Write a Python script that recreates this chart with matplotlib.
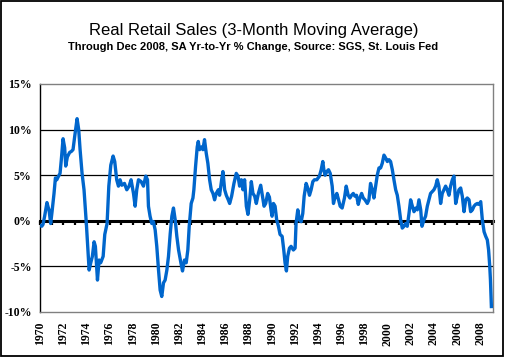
import matplotlib.pyplot as plt
import numpy as np
from matplotlib.patches import Rectangle

# time in years after Jan 1970
t_off = [0.0, 0.15, 0.26, 0.4, 0.6, 0.7, 0.78, 0.92, 1.04, 1.21, 1.33, 1.45, 1.56, 1.73, 1.84, 1.99,
         2.13, 2.22, 2.36, 2.56, 2.7, 2.85, 3.0, 3.2, 3.34, 3.46, 3.63, 3.8, 3.9, 4.0, 4.15, 4.24,
         4.38, 4.52, 4.67, 4.78, 4.96, 5.1, 5.24, 5.45, 5.59, 5.79, 5.94, 6.11, 6.31, 6.45,
         6.62, 6.77, 6.91, 7.06, 7.29, 7.49, 7.69, 7.86, 8.07, 8.21, 8.35, 8.5, 8.73, 8.93, 9.13,
         9.28, 9.36, 9.5, 9.65, 9.79, 9.94, 10.08, 10.23, 10.37, 10.51, 10.66, 10.8, 10.95, 11.09,
         11.24, 11.38, 11.52, 11.67, 11.81, 11.96, 12.16, 12.3, 12.47, 12.62, 12.76, 12.88, 13.05,
         13.2, 13.28, 13.43, 13.57, 13.66, 13.77, 13.95, 14.06, 14.2, 14.35, 14.49, 14.64, 14.78,
         14.93, 15.07, 15.21, 15.39, 15.5, 15.68, 15.79, 15.94, 16.08, 16.25, 16.37, 16.54, 16.74,
         16.94, 17.09, 17.23, 17.38, 17.52, 17.66, 17.81, 17.95, 18.1, 18.24, 18.38, 18.53, 18.67,
         18.85, 19.05, 19.19, 19.34, 19.48, 19.65, 19.8, 19.94, 20.03,
         20.15, 20.29, 20.43, 20.58, 20.72, 20.9, 21.04, 21.15, 21.27, 21.38, 21.53, 21.67, 21.87,
         22.02, 22.1, 22.25, 22.39, 22.54, 22.68, 22.8, 22.97, 23.11, 23.26, 23.4, 23.55, 23.69,
         23.89, 24.12, 24.27, 24.41, 24.5, 24.61, 24.76, 24.9, 25.05, 25.22, 25.33, 25.45, 25.62,
         25.77, 25.91, 26.08, 26.28, 26.43,
         26.6, 26.75, 26.89, 27.04, 27.18, 27.32, 27.47, 27.61, 27.76, 27.9, 28.05, 28.25, 28.39,
         28.53, 28.68, 28.82, 28.97, 29.11, 29.26, 29.4, 29.54, 29.69, 29.83, 29.98, 30.12, 30.26,
         30.41, 30.55, 30.7, 30.84, 30.98, 31.13, 31.27, 31.42, 31.56, 31.7, 31.85, 31.99, 32.14,
         32.28, 32.43, 32.57, 32.71, 32.86, 32.97,
         33.14, 33.28, 33.43, 33.57, 33.71, 33.86, 34.0, 34.15, 34.29, 34.43, 34.58, 34.72, 34.87,
         35.01, 35.15, 35.3, 35.44, 35.59, 35.73, 35.88, 36.02, 36.16, 36.31, 36.45, 36.6, 36.74,
         36.88, 37.03, 37.17, 37.32, 37.46, 37.6, 37.75, 37.89, 38.04, 38.18, 38.33, 38.47, 38.61,
         38.72, 38.82, 38.88, 38.92, 38.96]

# yr-to-yr % change, 3-month moving average
pct = [-0.5, -0.6, -0.4, 0.5, 2.0, 1.5, 1.2, -0.3, 1.0, 3.0, 4.7, 4.5, 4.8, 5.2, 6.7, 9.0,
       8.0, 6.0, 7.0, 7.5, 7.6, 7.8, 9.3, 11.2, 10.0, 7.8, 5.2, 3.4, 1.5, -0.3, -3.5, -5.4,
       -4.6, -3.9, -2.3, -2.8, -6.5, -4.3, -4.6, -3.9, -1.5, -0.3, 3.8, 6.1, 7.1, 6.5,
       4.5, 3.8, 4.5, 3.9, 4.1, 3.4, 3.8, 4.5, 3.0, 1.6, 3.4, 4.5, 4.3, 3.8, 4.9,
       4.5, 1.6, 0.5, -0.3, -0.1, -1.0, -2.8, -5.4, -7.6, -8.3, -6.8, -6.5, -5.4, -3.9,
       -1.4, 0.5, 1.4, 0.1, -1.7, -3.2, -4.6, -5.5, -4.3, -4.6, -3.2, -0.6, 1.9,
       2.5, 3.4, 6.0, 8.1, 8.7, 7.8, 8.1, 7.8, 8.9, 7.4, 6.3, 4.5, 3.4,
       3.0, 2.3, 3.0, 3.4, 2.8, 4.5, 5.4, 3.4, 2.8, 2.3, 1.9, 2.7, 4.1,
       5.2, 4.9, 3.8, 4.5, 3.4, 4.5, 1.6, 0.7, 2.3, 4.3, 3.0, 2.7, 1.9,
       3.0, 3.9, 2.8, 1.6, 1.9, 3.0, 2.6, 1.2, 0.5,
       1.9, 1.6, 0.1, -0.6, -1.5, -1.7, -3.2, -4.6, -5.5, -3.9, -3.0, -2.8, -3.2,
       -3.0, -0.3, 1.2, 0.1, -0.1, 0.8, 2.7, 4.1, 3.6, 2.8, 3.4, 4.3, 4.5,
       4.5, 4.9, 5.6, 6.5, 5.6, 5.0, 5.4, 5.6, 5.2, 3.8, 1.9, 2.5, 3.0,
       2.3, 1.6, 1.4, 2.5, 3.8,
       2.8, 2.5, 2.8, 3.0, 2.7, 2.8, 1.8, 2.5, 3.0, 2.5, 2.3, 1.9, 2.3,
       4.1, 3.4, 2.5, 3.8, 5.0, 5.8, 5.8, 6.3, 7.2, 6.9, 6.5, 6.7, 6.5,
       5.6, 4.5, 3.4, 2.8, 1.6, 0.1, -0.8, -0.6, -0.3, -0.6, 0.8, 2.3, 1.6,
       1.0, 1.4, 1.2, 2.3, 1.2, -0.6,
       0.1, 0.5, 1.6, 2.3, 3.0, 3.2, 3.4, 3.8, 4.5, 3.8, 1.9, 3.0, 3.4,
       3.8, 3.4, 2.8, 3.8, 4.5, 4.9, 1.9, 2.7, 3.4, 3.6, 2.7, 1.0, 2.3,
       2.5, 2.3, 1.0, 1.2, 1.6, 1.8, 1.9, 1.8, 2.1, 0.1, -1.2, -1.7, -2.1,
       -3.2, -5.0, -6.5, -8.0, -9.4]

year_ticks = list(range(1970, 2010, 2))
y_ticks = [-10, -5, 0, 5, 10, 15]

dates = 1970 + np.array(t_off)

fig = plt.figure(figsize=(5.07, 3.58), dpi=100)
ax = fig.add_axes([40/507, 46/358, 453/507, 228/358])

for g in [-5, 5, 10]:
    ax.axhline(g, color='black', lw=0.9, zorder=1)

ax.plot(dates, pct, color='#0066CC', lw=2.4, zorder=3)

ax.set_xlim(1970, 2009.1)
ax.set_ylim(-10, 15)
ax.set_yticks(y_ticks)
ax.set_yticklabels([str(v) + '%' for v in y_ticks], family='Liberation Serif',
                   fontweight='bold', fontsize=8.5)
ax.set_xticks(year_ticks)
ax.set_xticklabels([str(y) for y in year_ticks], rotation=90, family='Liberation Serif',
                   fontweight='bold', fontsize=8.5)
ax.tick_params(axis='both', length=0)
ax.tick_params(axis='y', pad=6)
ax.tick_params(axis='x', pad=7)

for s in ['top', 'right', 'bottom']:
    ax.spines[s].set_color('#808080')
    ax.spines[s].set_linewidth(1)
ax.spines['left'].set_color('black')
ax.spines['left'].set_linewidth(1)

# zero line carries the yearly tick marks
zx = ax.secondary_xaxis(0, transform=ax.transData)
zx.set_xticks(range(1970, 2010))
zx.set_xticklabels([])
zx.tick_params(direction='out', length=3, width=1.6, color='black')
zx.spines['bottom'].set_linewidth(2.2)
zx.spines['bottom'].set_color('black')
zx.set_zorder(2)

fig.text(0.5, 1 - 30/358, 'Real Retail Sales (3-Month Moving Average)', ha='center', va='center',
         family='Liberation Sans', fontsize=12)
fig.text(0.5, 1 - 47/358, 'Through Dec 2008, SA Yr-to-Yr % Change, Source: SGS, St. Louis Fed',
         ha='center', va='center', family='Liberation Sans', fontweight='bold', fontsize=8)

fig.patches.append(Rectangle((0.7/507, 2/358), 502/507, 355/358, transform=fig.transFigure,
                             fill=False, edgecolor='black', lw=1.3))

fig.savefig('out.png', dpi=100)
